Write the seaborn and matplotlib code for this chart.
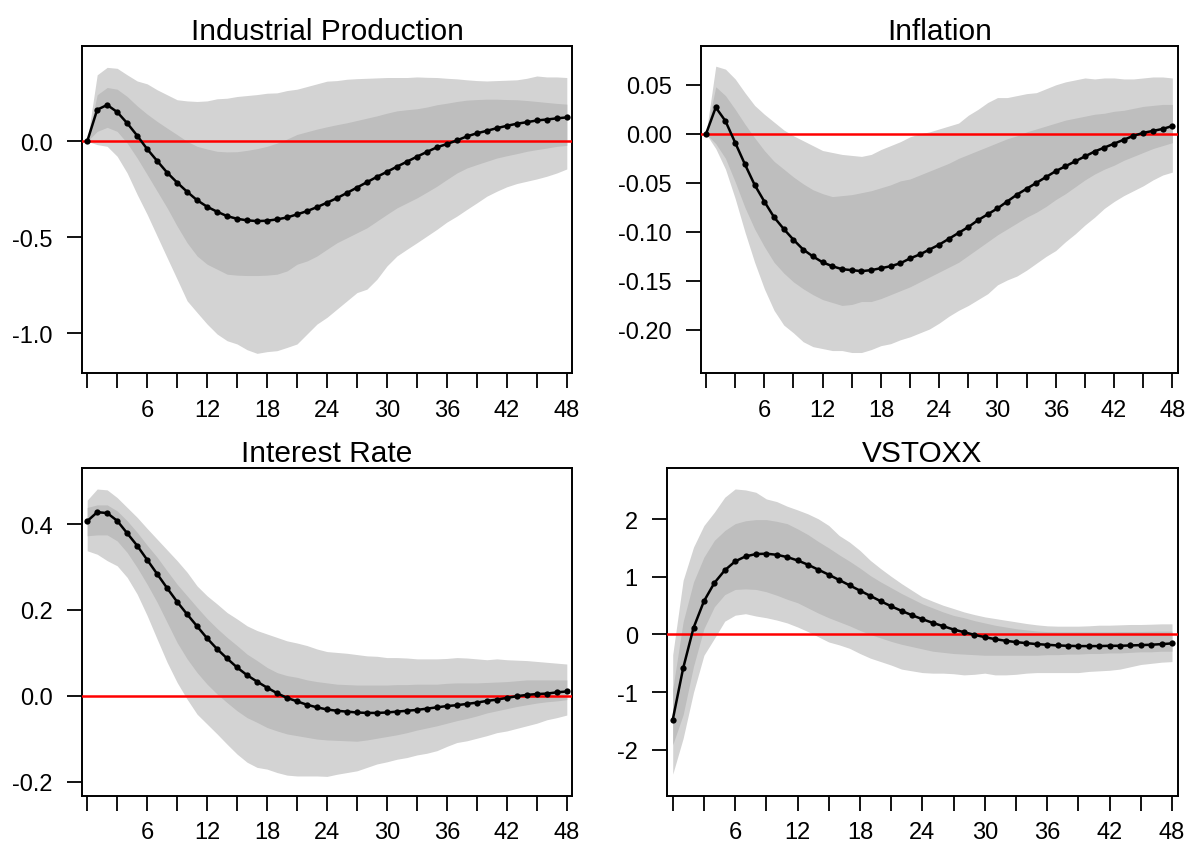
import matplotlib
matplotlib.use("Agg")
import matplotlib.pyplot as plt
import seaborn as sns
import numpy as np
import pandas as pd

# ---------------- data ----------------
horizon = list(range(49))

titles = ["Industrial Production", "Inflation", "Interest Rate", "VSTOXX"]

ip_mean = [0, 0.165, 0.19, 0.153, 0.095, 0.03, -0.04, -0.102, -0.163, -0.215, -0.263, -0.307, -0.341, -0.367, -0.39, -0.404, -0.412, -0.416, -0.414, -0.407, -0.397, -0.381, -0.364, -0.343, -0.32, -0.296, -0.269, -0.241, -0.213, -0.185, -0.159, -0.132, -0.106, -0.08, -0.055, -0.031, -0.014, 0.005, 0.026, 0.042, 0.055, 0.069, 0.081, 0.092, 0.1, 0.109, 0.114, 0.12, 0.125]
ip_hi90 = [0, 0.347, 0.386, 0.381, 0.347, 0.315, 0.3, 0.269, 0.243, 0.217, 0.211, 0.208, 0.211, 0.222, 0.225, 0.234, 0.239, 0.244, 0.251, 0.253, 0.265, 0.272, 0.286, 0.3, 0.314, 0.317, 0.324, 0.327, 0.329, 0.331, 0.333, 0.333, 0.333, 0.336, 0.334, 0.333, 0.329, 0.326, 0.321, 0.317, 0.315, 0.317, 0.319, 0.321, 0.329, 0.341, 0.336, 0.336, 0.333]
ip_hi68 = [0, 0.243, 0.281, 0.272, 0.234, 0.185, 0.142, 0.104, 0.069, 0.035, 0.0, -0.026, -0.04, -0.052, -0.055, -0.054, -0.047, -0.038, -0.026, -0.009, 0.012, 0.036, 0.05, 0.064, 0.076, 0.087, 0.097, 0.109, 0.121, 0.133, 0.147, 0.159, 0.165, 0.17, 0.179, 0.191, 0.199, 0.208, 0.215, 0.218, 0.22, 0.22, 0.218, 0.217, 0.213, 0.208, 0.203, 0.198, 0.194]
ip_lo68 = [0, 0.052, 0.073, 0.052, -0.009, -0.087, -0.173, -0.26, -0.347, -0.442, -0.529, -0.598, -0.641, -0.667, -0.693, -0.698, -0.7, -0.7, -0.698, -0.693, -0.676, -0.641, -0.624, -0.598, -0.563, -0.529, -0.503, -0.477, -0.451, -0.416, -0.381, -0.347, -0.321, -0.295, -0.265, -0.234, -0.199, -0.165, -0.139, -0.121, -0.104, -0.087, -0.075, -0.064, -0.052, -0.043, -0.035, -0.026, -0.021]
ip_lo90 = [0, -0.017, -0.026, -0.078, -0.165, -0.277, -0.381, -0.494, -0.607, -0.719, -0.832, -0.893, -0.953, -1.005, -1.04, -1.057, -1.087, -1.106, -1.097, -1.092, -1.075, -1.057, -1.005, -0.953, -0.918, -0.875, -0.832, -0.789, -0.771, -0.719, -0.65, -0.598, -0.563, -0.529, -0.494, -0.459, -0.421, -0.39, -0.355, -0.321, -0.286, -0.26, -0.237, -0.22, -0.208, -0.196, -0.182, -0.165, -0.144]

inf_mean = [0, 0.027, 0.013, -0.009, -0.031, -0.052, -0.069, -0.085, -0.097, -0.108, -0.118, -0.125, -0.131, -0.135, -0.138, -0.139, -0.14, -0.139, -0.137, -0.135, -0.132, -0.127, -0.123, -0.118, -0.113, -0.107, -0.101, -0.095, -0.088, -0.082, -0.076, -0.069, -0.062, -0.056, -0.05, -0.044, -0.038, -0.033, -0.028, -0.023, -0.018, -0.014, -0.01, -0.006, -0.002, 0.001, 0.003, 0.005, 0.008]
inf_hi90 = [0, 0.069, 0.066, 0.056, 0.042, 0.029, 0.02, 0.012, 0.004, -0.002, -0.007, -0.012, -0.017, -0.019, -0.021, -0.022, -0.023, -0.021, -0.016, -0.012, -0.008, -0.003, 0.0, 0.002, 0.005, 0.008, 0.011, 0.019, 0.025, 0.032, 0.037, 0.037, 0.039, 0.041, 0.042, 0.046, 0.05, 0.053, 0.055, 0.057, 0.056, 0.057, 0.057, 0.056, 0.056, 0.057, 0.058, 0.058, 0.057]
inf_hi68 = [0, 0.048, 0.039, 0.025, 0.01, -0.004, -0.017, -0.028, -0.036, -0.044, -0.051, -0.057, -0.061, -0.064, -0.063, -0.062, -0.06, -0.058, -0.055, -0.052, -0.048, -0.046, -0.042, -0.038, -0.034, -0.03, -0.025, -0.021, -0.017, -0.013, -0.009, -0.005, -0.002, 0.002, 0.005, 0.008, 0.011, 0.014, 0.016, 0.018, 0.02, 0.021, 0.023, 0.024, 0.026, 0.028, 0.029, 0.03, 0.03]
inf_lo68 = [0, -0.01, -0.025, -0.049, -0.075, -0.097, -0.115, -0.131, -0.142, -0.151, -0.158, -0.164, -0.169, -0.172, -0.175, -0.174, -0.171, -0.171, -0.168, -0.164, -0.16, -0.156, -0.151, -0.146, -0.141, -0.136, -0.131, -0.124, -0.117, -0.11, -0.103, -0.097, -0.091, -0.085, -0.08, -0.074, -0.067, -0.061, -0.054, -0.047, -0.041, -0.036, -0.032, -0.027, -0.023, -0.019, -0.015, -0.012, -0.009]
inf_lo90 = [0, -0.015, -0.036, -0.066, -0.1, -0.131, -0.158, -0.18, -0.195, -0.203, -0.212, -0.217, -0.219, -0.221, -0.221, -0.223, -0.223, -0.22, -0.216, -0.214, -0.21, -0.207, -0.203, -0.199, -0.193, -0.186, -0.18, -0.175, -0.169, -0.163, -0.154, -0.149, -0.145, -0.139, -0.132, -0.125, -0.119, -0.11, -0.102, -0.093, -0.085, -0.076, -0.069, -0.063, -0.058, -0.053, -0.047, -0.042, -0.039]

ir_mean = [0.407, 0.428, 0.426, 0.408, 0.379, 0.35, 0.317, 0.284, 0.251, 0.219, 0.19, 0.162, 0.134, 0.109, 0.087, 0.066, 0.048, 0.033, 0.019, 0.006, -0.005, -0.013, -0.021, -0.027, -0.032, -0.035, -0.037, -0.039, -0.04, -0.04, -0.039, -0.037, -0.035, -0.033, -0.03, -0.027, -0.024, -0.022, -0.019, -0.016, -0.012, -0.009, -0.005, -0.001, 0.002, 0.004, 0.005, 0.008, 0.01]
ir_hi90 = [0.456, 0.482, 0.48, 0.462, 0.439, 0.416, 0.39, 0.365, 0.34, 0.315, 0.288, 0.256, 0.233, 0.214, 0.194, 0.179, 0.163, 0.152, 0.144, 0.136, 0.128, 0.123, 0.117, 0.109, 0.103, 0.101, 0.099, 0.096, 0.093, 0.092, 0.089, 0.089, 0.088, 0.086, 0.086, 0.086, 0.087, 0.089, 0.088, 0.086, 0.084, 0.086, 0.084, 0.083, 0.082, 0.08, 0.078, 0.076, 0.074]
ir_hi68 = [0.439, 0.445, 0.445, 0.431, 0.408, 0.381, 0.351, 0.323, 0.291, 0.26, 0.233, 0.206, 0.18, 0.157, 0.136, 0.117, 0.097, 0.082, 0.066, 0.054, 0.047, 0.043, 0.037, 0.033, 0.03, 0.027, 0.026, 0.025, 0.025, 0.025, 0.025, 0.026, 0.026, 0.027, 0.027, 0.027, 0.029, 0.03, 0.03, 0.03, 0.031, 0.032, 0.033, 0.035, 0.037, 0.037, 0.037, 0.037, 0.037]
ir_lo68 = [0.373, 0.375, 0.375, 0.361, 0.334, 0.299, 0.26, 0.218, 0.171, 0.124, 0.086, 0.054, 0.027, 0.004, -0.016, -0.035, -0.051, -0.062, -0.074, -0.082, -0.089, -0.093, -0.097, -0.101, -0.103, -0.104, -0.105, -0.106, -0.103, -0.099, -0.095, -0.091, -0.086, -0.08, -0.075, -0.07, -0.064, -0.058, -0.053, -0.047, -0.04, -0.035, -0.03, -0.025, -0.021, -0.017, -0.014, -0.012, -0.009]
ir_lo90 = [0.338, 0.33, 0.315, 0.303, 0.276, 0.237, 0.187, 0.132, 0.078, 0.031, -0.008, -0.043, -0.066, -0.089, -0.113, -0.136, -0.155, -0.167, -0.171, -0.179, -0.185, -0.187, -0.187, -0.187, -0.188, -0.183, -0.179, -0.175, -0.167, -0.159, -0.154, -0.148, -0.144, -0.138, -0.134, -0.128, -0.118, -0.109, -0.105, -0.099, -0.093, -0.086, -0.082, -0.076, -0.07, -0.064, -0.056, -0.051, -0.045]

vs_mean = [-1.479, -0.587, 0.115, 0.576, 0.892, 1.111, 1.266, 1.353, 1.393, 1.399, 1.381, 1.341, 1.283, 1.209, 1.122, 1.036, 0.944, 0.852, 0.76, 0.668, 0.576, 0.489, 0.409, 0.334, 0.265, 0.201, 0.144, 0.086, 0.04, -0.006, -0.046, -0.081, -0.109, -0.132, -0.15, -0.167, -0.178, -0.19, -0.196, -0.201, -0.201, -0.201, -0.196, -0.196, -0.19, -0.184, -0.178, -0.167, -0.155]
vs_hi90 = [-0.35, 0.938, 1.514, 1.888, 2.118, 2.377, 2.521, 2.504, 2.463, 2.348, 2.302, 2.222, 2.158, 2.089, 2.003, 1.888, 1.715, 1.6, 1.456, 1.283, 1.14, 1.007, 0.881, 0.765, 0.65, 0.576, 0.506, 0.449, 0.391, 0.345, 0.305, 0.276, 0.247, 0.219, 0.19, 0.167, 0.15, 0.144, 0.144, 0.144, 0.15, 0.161, 0.161, 0.167, 0.173, 0.173, 0.178, 0.184, 0.184]
vs_hi68 = [-0.95, 0.22, 0.91, 1.34, 1.63, 1.8, 1.92, 1.97, 1.99, 1.99, 1.96, 1.92, 1.83, 1.73, 1.61, 1.5, 1.38, 1.27, 1.15, 1.02, 0.91, 0.81, 0.71, 0.62, 0.53, 0.46, 0.39, 0.33, 0.29, 0.24, 0.2, 0.16, 0.13, 0.1, 0.08, 0.06, 0.05, 0.046, 0.046, 0.046, 0.046, 0.046, 0.046, 0.05, 0.05, 0.052, 0.055, 0.058, 0.058]
vs_lo68 = [-1.91, -1.39, -0.55, 0.1, 0.48, 0.69, 0.78, 0.79, 0.78, 0.74, 0.68, 0.61, 0.55, 0.46, 0.37, 0.29, 0.22, 0.15, 0.07, 0.0, -0.06, -0.12, -0.17, -0.21, -0.25, -0.29, -0.31, -0.33, -0.34, -0.35, -0.36, -0.36, -0.36, -0.36, -0.36, -0.36, -0.35, -0.35, -0.34, -0.34, -0.33, -0.33, -0.32, -0.32, -0.31, -0.3, -0.3, -0.29, -0.29]
vs_lo90 = [-2.42, -1.8, -1.0, -0.36, -0.07, 0.23, 0.334, 0.36, 0.32, 0.29, 0.25, 0.2, 0.13, 0.05, -0.04, -0.13, -0.18, -0.24, -0.33, -0.41, -0.47, -0.53, -0.6, -0.63, -0.66, -0.67, -0.67, -0.68, -0.7, -0.69, -0.67, -0.7, -0.7, -0.69, -0.67, -0.66, -0.66, -0.66, -0.66, -0.66, -0.64, -0.63, -0.62, -0.6, -0.56, -0.52, -0.5, -0.48, -0.47]

x_ticks = list(range(0, 49, 3))
x_labels = ["" if (t == 0 or t % 6) else str(t) for t in x_ticks]

ip_yticks = [0.0, -0.5, -1.0]
ip_ylabels = ["0.0", "-0.5", "-1.0"]
inf_yticks = [0.05, 0.0, -0.05, -0.10, -0.15, -0.20]
inf_ylabels = ["0.05", "0.00", "-0.05", "-0.10", "-0.15", "-0.20"]
ir_yticks = [0.4, 0.2, 0.0, -0.2]
ir_ylabels = ["0.4", "0.2", "0.0", "-0.2"]
vs_yticks = [2, 1, 0, -1, -2]
vs_ylabels = ["2", "1", "0", "-1", "-2"]

# ---------------- style ----------------
sns.set_style("white")
plt.rcParams["font.family"] = ["Liberation Sans", "DejaVu Sans"]
plt.rcParams["axes.unicode_minus"] = False
plt.rcParams["xtick.bottom"] = True
plt.rcParams["ytick.left"] = True
plt.rcParams["xtick.major.size"] = 10.5
plt.rcParams["ytick.major.size"] = 10.5
plt.rcParams["xtick.major.width"] = 1.3
plt.rcParams["ytick.major.width"] = 1.3
plt.rcParams["xtick.direction"] = "out"
plt.rcParams["ytick.direction"] = "out"

W, H = 1187, 845
fig = plt.figure(figsize=(W / 100, H / 100), dpi=100)

LIGHT = "#D3D3D3"
DARK = "#BEBEBE"

panels = [
    dict(title=titles[0], mean=ip_mean, hi90=ip_hi90, hi68=ip_hi68, lo68=ip_lo68, lo90=ip_lo90,
         yt=ip_yticks, yl=ip_ylabels, ylim=(-1.210, 0.499), box=(81.7, 46.7, 572.3, 374.3)),
    dict(title=titles[1], mean=inf_mean, hi90=inf_hi90, hi68=inf_hi68, lo68=inf_lo68, lo90=inf_lo90,
         yt=inf_yticks, yl=inf_ylabels, ylim=(-0.2442, 0.0899), box=(700.7, 46.7, 1177.7, 374.3)),
    dict(title=titles[2], mean=ir_mean, hi90=ir_hi90, hi68=ir_hi68, lo68=ir_lo68, lo90=ir_lo90,
         yt=ir_yticks, yl=ir_ylabels, ylim=(-0.233, 0.531), box=(81.7, 469.0, 572.3, 796.7)),
    dict(title=titles[3], mean=vs_mean, hi90=vs_hi90, hi68=vs_hi68, lo68=vs_lo68, lo90=vs_lo90,
         yt=vs_yticks, yl=vs_ylabels, ylim=(-2.793, 2.884), box=(667.0, 469.0, 1177.7, 796.7)),
]

for p in panels:
    x0, y0, x1, y1 = p["box"]
    ax = fig.add_axes([x0 / W, 1 - y1 / H, (x1 - x0) / W, (y1 - y0) / H])
    df = pd.DataFrame({"h": horizon, "mean": p["mean"], "hi90": p["hi90"], "hi68": p["hi68"],
                       "lo68": p["lo68"], "lo90": p["lo90"]})
    ax.fill_between(df["h"], df["lo90"], df["hi90"], color=LIGHT, lw=0, zorder=1)
    ax.fill_between(df["h"], df["lo68"], df["hi68"], color=DARK, lw=0, zorder=2)
    ax.axhline(0, color="#FF0000", lw=1.8, zorder=3)
    sns.lineplot(data=df, x="h", y="mean", ax=ax, color="black", lw=1.8, marker="o",
                 markersize=4.5, markeredgecolor="black", markeredgewidth=0, zorder=4)
    ax.set_xlim(-0.55, 48.55)
    ax.set_ylim(*p["ylim"])
    ax.set_xticks(x_ticks)
    ax.set_xticklabels(x_labels)
    ax.set_yticks(p["yt"])
    ax.set_yticklabels(p["yl"])
    ax.set_xlabel("")
    ax.set_ylabel("")
    ax.tick_params(axis="both", which="major", direction="out", length=10.5, width=1.3,
                   color="black", labelsize=17, labelcolor="black",
                   bottom=True, left=True, top=False, right=False)
    ax.tick_params(axis="y", pad=10.5)
    ax.tick_params(axis="x", pad=8)
    for s in ax.spines.values():
        s.set_visible(True)
        s.set_color("black")
        s.set_linewidth(1.4)
    ax.set_title(p["title"], fontsize=21.5, pad=5, color="black")

fig.savefig("out.png", dpi=100)
